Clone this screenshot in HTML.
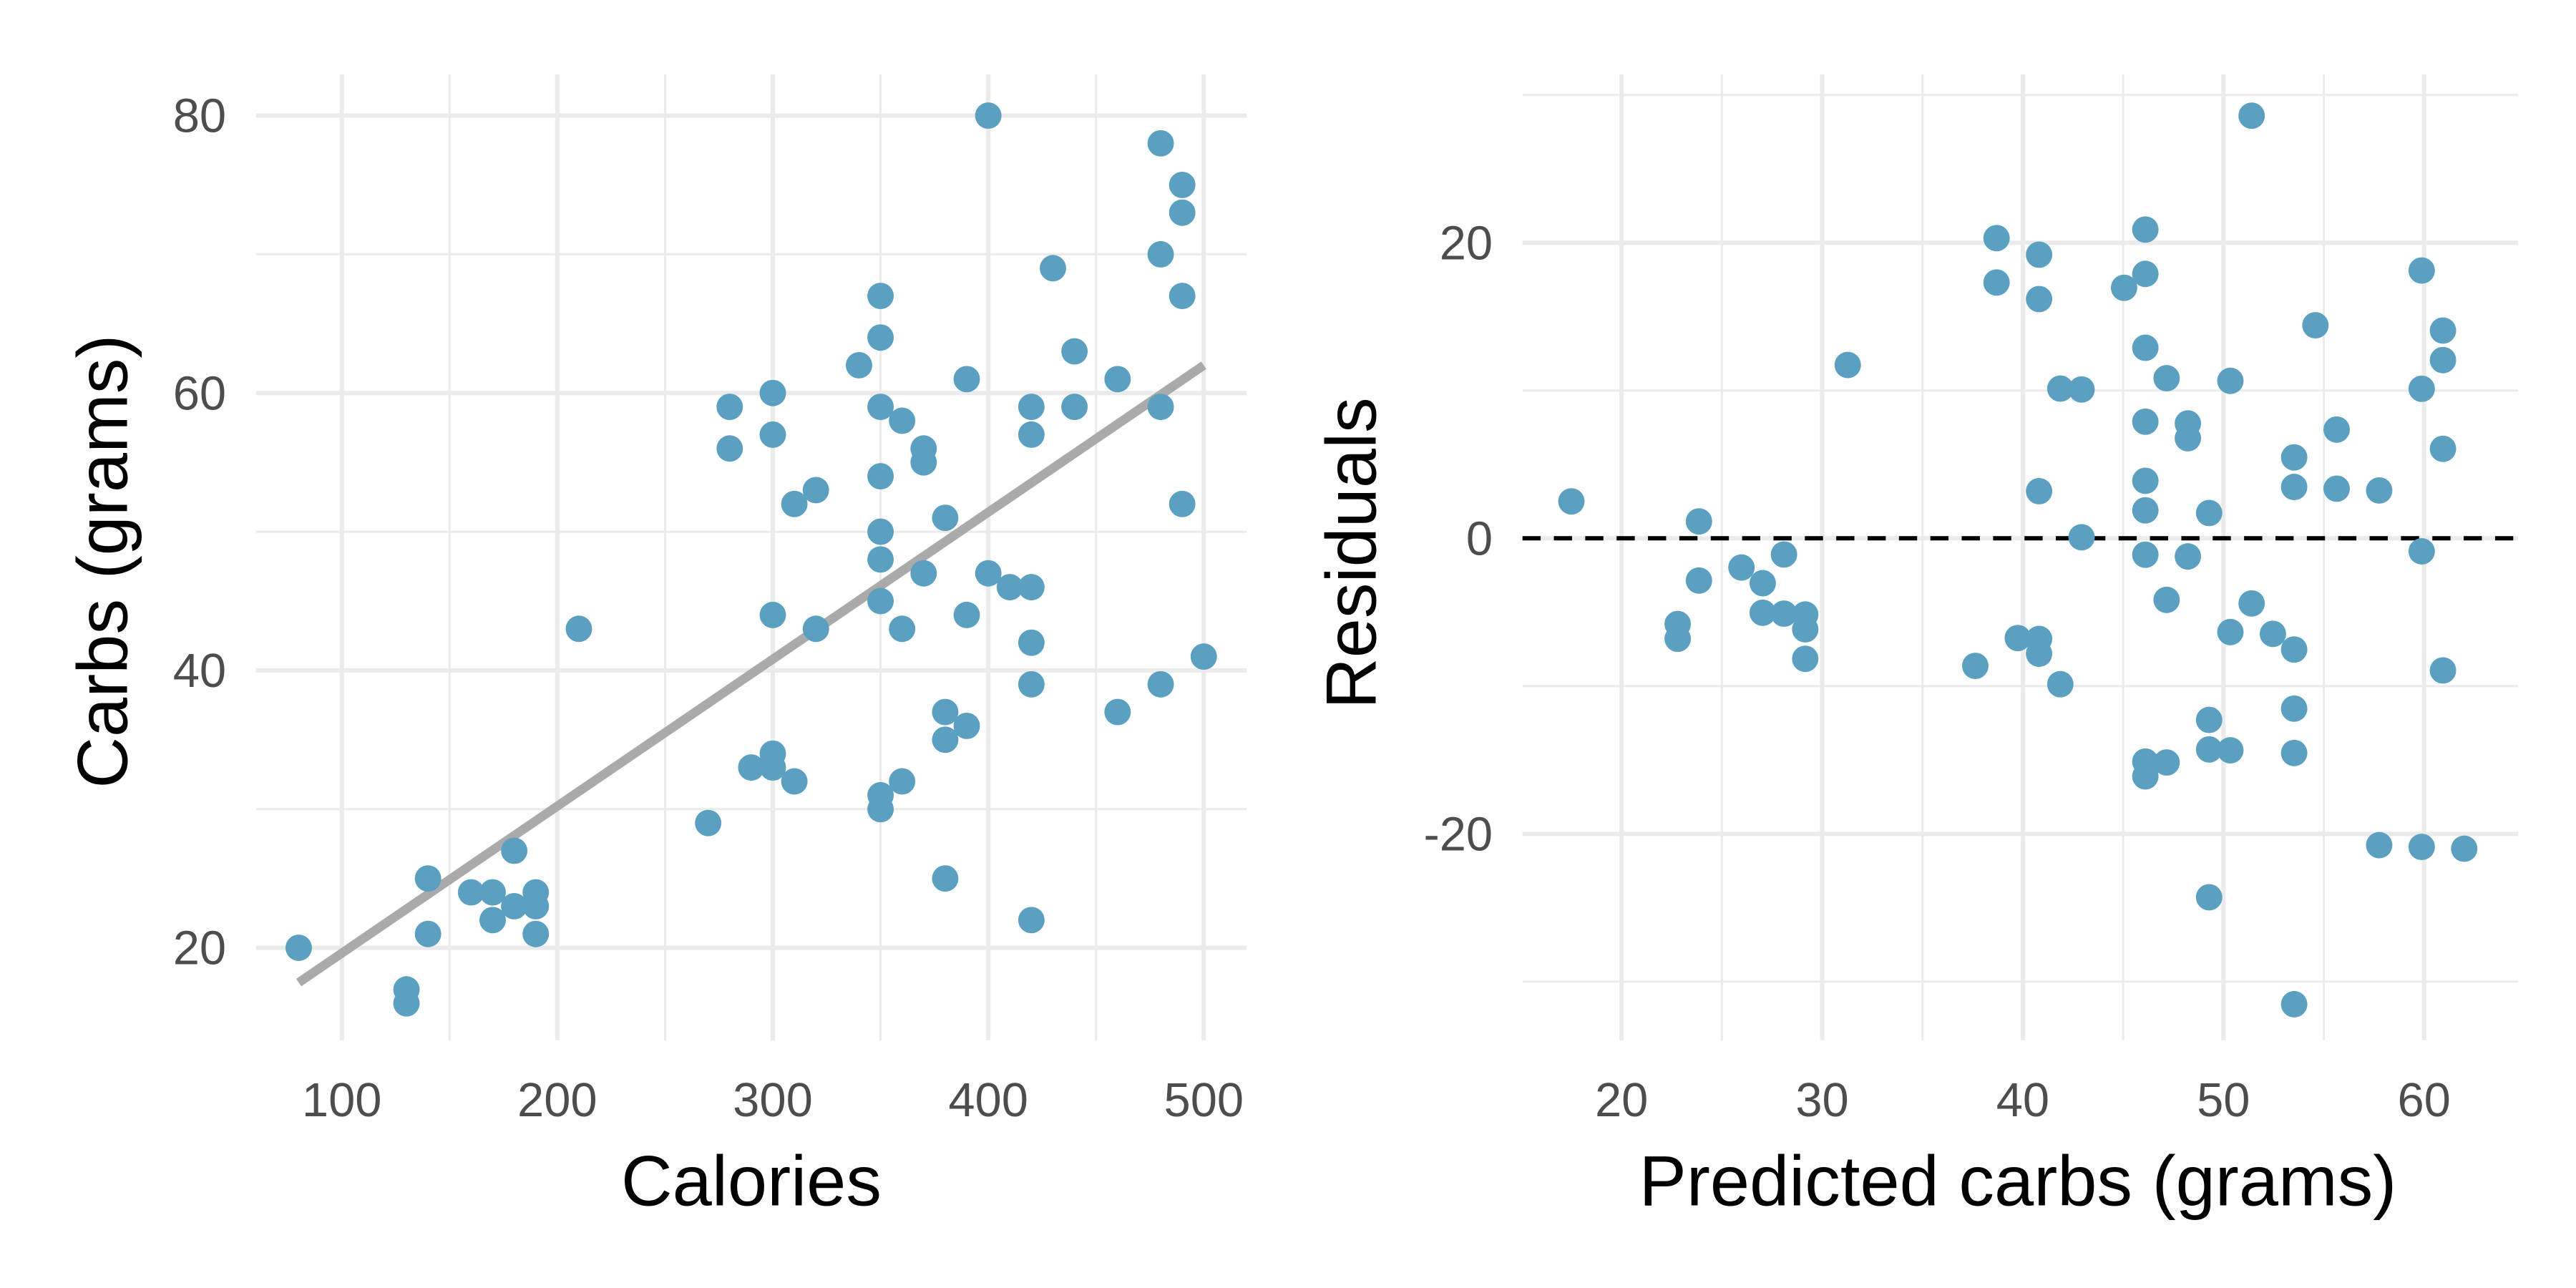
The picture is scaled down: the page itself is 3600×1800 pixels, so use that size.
<!DOCTYPE html>
<html><head><meta charset="utf-8"><style>
html,body{margin:0;padding:0;background:#fff;}
svg{display:block;font-family:"Liberation Sans",sans-serif;}
</style></head><body>
<svg id="chart" width="3600" height="1800" viewBox="0 0 1560 780" xmlns="http://www.w3.org/2000/svg">
<rect width="1560" height="780" fill="#fff"/>
<g id="left"></g>
<g id="right"></g>
</svg>
<script>
const calories=[80,130,130,140,140,160,170,170,180,180,190,190,190,210,270,280,280,290,300,300,300,300,300,310,310,320,320,340,350,350,350,350,350,350,350,350,350,360,360,360,370,370,370,380,380,380,380,390,390,390,400,400,410,420,420,420,420,420,420,430,440,440,460,460,480,480,480,480,490,490,490,490,500];
const carbs=[20,17,16,25,21,24,24,22,27,23,24,23,21,43,29,59,56,33,60,57,44,34,33,52,32,53,43,62,67,64,59,54,50,48,45,31,30,58,43,32,56,55,47,51,37,35,25,61,44,36,80,47,46,59,57,46,42,39,22,69,63,59,61,37,78,70,59,39,75,73,67,52,41];
const fitStart=[80,17.5];
const fitEnd=[500,62];
const leftXTicks=[100,200,300,400,500];
const leftYTicks=[20,40,60,80];
const rightXTicks=[20,30,40,50,60];
const rightYTicks=[-20,0,20];

const NS="http://www.w3.org/2000/svg";
function mk(parent,tag,attrs,text){const e=document.createElementNS(NS,tag);for(const k in attrs)e.setAttribute(k,attrs[k]);if(text!==undefined)e.textContent=text;parent.appendChild(e);return e;}
const slope=(fitEnd[1]-fitStart[1])/(fitEnd[0]-fitStart[0]);
const icpt=fitStart[1]-slope*fitStart[0];
const PT="#5b9fc1";
const TF=29, TT=43;

// left panel
const L=document.getElementById('left');
const lx=v=>207+(v-100)*(729-207)/400;
const ly=v=>574-(v-20)*(574-70)/60;
const px0=155,px1=755,py0=45,py1=630;
for(const v of [150,250,350,450]){const g=mk(L,'line',{x1:lx(v),x2:lx(v),y1:py0,y2:py1,stroke:'#ebebeb','stroke-width':1.3});}
for(const v of [30,50,70]){const g=mk(L,'line',{x1:px0,x2:px1,y1:ly(v),y2:ly(v),stroke:'#ebebeb','stroke-width':1.3});}
for(const v of leftXTicks){const g=mk(L,'line',{x1:lx(v),x2:lx(v),y1:py0,y2:py1,stroke:'#ebebeb','stroke-width':2.6});
const t=mk(L,'text',{x:lx(v),y:676,'text-anchor':'middle','font-size':TF,fill:'#4d4d4d'},String(v));}
for(const v of leftYTicks){const g=mk(L,'line',{x1:px0,x2:px1,y1:ly(v),y2:ly(v),stroke:'#ebebeb','stroke-width':2.6});
const t=mk(L,'text',{x:137,y:ly(v)+10,'text-anchor':'end','font-size':TF,fill:'#4d4d4d'},String(v));}
const fl=mk(L,'line',{x1:lx(fitStart[0]),y1:ly(fitStart[1]),x2:lx(fitEnd[0]),y2:ly(fitEnd[1]),stroke:'#aaaaaa','stroke-width':5.5});


calories.forEach((c,i)=>{const p=mk(L,'circle',{cx:lx(c),cy:ly(carbs[i]),r:8,fill:PT});

});
let t=mk(L,'text',{x:455,y:730,'text-anchor':'middle','font-size':TT,fill:'#000'},'Calories');

t=mk(L,'text',{x:0,y:0,'text-anchor':'middle','font-size':TT,fill:'#000',transform:'translate(77,340) rotate(-90)'},'Carbs (grams)');


// right panel
const R=document.getElementById('right');
const rx=v=>982+(v-20)*(1468-982)/40;
const ry=v=>326-v*(505-147)/40;
const qx0=922,qx1=1525;
for(const v of [25,35,45,55]){const g=mk(R,'line',{x1:rx(v),x2:rx(v),y1:py0,y2:py1,stroke:'#ebebeb','stroke-width':1.3});}
for(const v of [-30,-10,10,30]){const g=mk(R,'line',{x1:qx0,x2:qx1,y1:ry(v),y2:ry(v),stroke:'#ebebeb','stroke-width':1.3});}
for(const v of rightXTicks){const g=mk(R,'line',{x1:rx(v),x2:rx(v),y1:py0,y2:py1,stroke:'#ebebeb','stroke-width':2.6});
const tt=mk(R,'text',{x:rx(v),y:676,'text-anchor':'middle','font-size':TF,fill:'#4d4d4d'},String(v));}
for(const v of rightYTicks){const g=mk(R,'line',{x1:qx0,x2:qx1,y1:ry(v),y2:ry(v),stroke:'#ebebeb','stroke-width':2.6});
const tt=mk(R,'text',{x:904,y:ry(v)+10,'text-anchor':'end','font-size':TF,fill:'#4d4d4d'},String(v));}
const zl=mk(R,'line',{x1:qx0,x2:qx1,y1:ry(0),y2:ry(0),stroke:'#000','stroke-width':2.6,'stroke-dasharray':'11,8'});


calories.forEach((c,i)=>{const pred=icpt+slope*c;const p=mk(R,'circle',{cx:rx(pred),cy:ry(carbs[i]-pred),r:8,fill:PT});

});
t=mk(R,'text',{x:1222,y:730,'text-anchor':'middle','font-size':TT,fill:'#000'},'Predicted carbs (grams)');

t=mk(R,'text',{x:0,y:0,'text-anchor':'middle','font-size':TT,fill:'#000',transform:'translate(833,335) rotate(-90)'},'Residuals');

</script>
</body></html>
